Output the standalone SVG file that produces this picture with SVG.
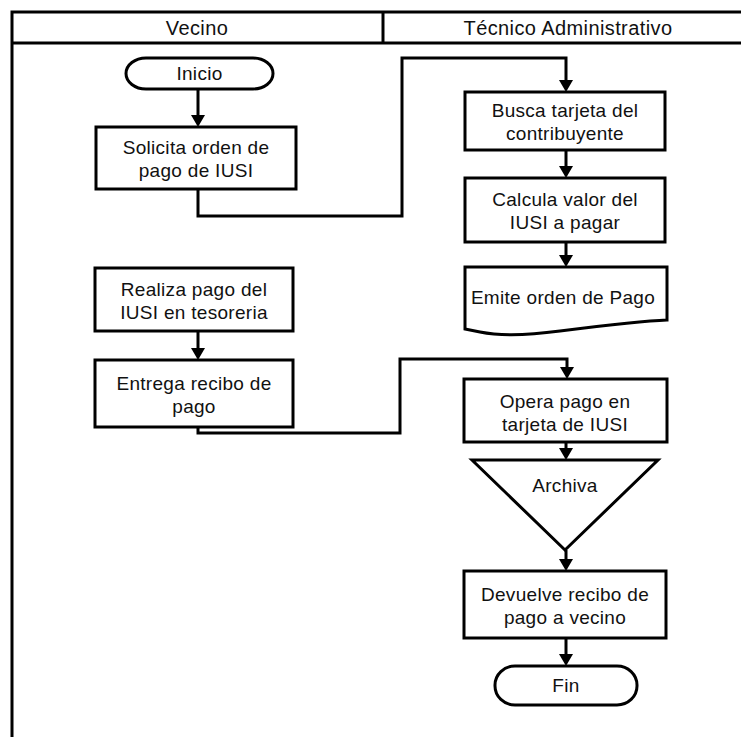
<svg xmlns="http://www.w3.org/2000/svg" xmlns:xlink="http://www.w3.org/1999/xlink" width="741" height="737" viewBox="0 0 741 737">
  <defs>
    <style>
      .frame { fill: none; stroke: #000; stroke-width: 3; }
      .shape { fill: #fff; stroke: #000; stroke-width: 3; stroke-linejoin: miter; }
      .wire { fill: none; stroke: #000; stroke-width: 3; }
      .head { fill: #000; stroke: none; }
      .lbl { font-family: "Liberation Sans", Arial, sans-serif; font-size: 19px; fill: #111; text-anchor: middle; letter-spacing: 0.3px; }
      .hdr { font-family: "Liberation Sans", Arial, sans-serif; font-size: 20px; fill: #111; text-anchor: middle; letter-spacing: 0.4px; }
    </style>
    <!-- downward arrowhead, tip at the origin -->
    <path id="head" d="M-7,-12 L7,-12 L0,0 Z"/>
  </defs>

  <rect width="741" height="737" fill="#fff"/>

  <!-- swimlane frame -->
  <g id="lanes">
    <path class="frame" d="M12,737 V12 H741"/>
    <path class="frame" d="M12,43 H741"/>
    <path class="frame" d="M383,12 V43"/>
    <text class="hdr" x="197" y="35">Vecino</text>
    <text class="hdr" x="568" y="35">Técnico Administrativo</text>
  </g>

  <!-- Vecino lane -->
  <g id="inicio">
    <rect class="shape" x="126" y="58" width="147" height="31" rx="20" ry="15.5"/>
    <text class="lbl" x="199.5" y="80">Inicio</text>
  </g>
  <g id="solicita">
    <rect class="shape" x="96" y="127" width="200" height="62"/>
    <text class="lbl" x="196" y="154">Solicita orden de</text>
    <text class="lbl" x="196" y="177">pago de IUSI</text>
  </g>
  <g id="realiza">
    <rect class="shape" x="95" y="268" width="198" height="63"/>
    <text class="lbl" x="194" y="296">Realiza pago del</text>
    <text class="lbl" x="194" y="319">IUSI en tesoreria</text>
  </g>
  <g id="entrega">
    <rect class="shape" x="95" y="360" width="198" height="67"/>
    <text class="lbl" x="194" y="390">Entrega recibo de</text>
    <text class="lbl" x="194" y="413">pago</text>
  </g>

  <!-- Técnico Administrativo lane -->
  <g id="busca">
    <rect class="shape" x="465" y="92" width="200" height="58"/>
    <text class="lbl" x="565" y="117">Busca tarjeta del</text>
    <text class="lbl" x="565" y="140">contribuyente</text>
  </g>
  <g id="calcula">
    <rect class="shape" x="465" y="178" width="200" height="64"/>
    <text class="lbl" x="565" y="206">Calcula valor del</text>
    <text class="lbl" x="565" y="229">IUSI a pagar</text>
  </g>
  <g id="emite">
    <path class="shape" d="M465,267 H667 V320 C640,321 600,326 560,331 C530,335 500,336 480,332 L465,329 Z"/>
    <text class="lbl" x="563" y="304">Emite orden de Pago</text>
  </g>
  <g id="opera">
    <rect class="shape" x="464" y="379" width="203" height="63"/>
    <text class="lbl" x="565" y="408">Opera pago en</text>
    <text class="lbl" x="565" y="431">tarjeta de IUSI</text>
  </g>
  <g id="archiva">
    <path class="shape" d="M472,460 H658 L565,550 Z"/>
    <text class="lbl" x="565" y="492">Archiva</text>
  </g>
  <g id="devuelve">
    <rect class="shape" x="464" y="571" width="202" height="67"/>
    <text class="lbl" x="565" y="601">Devuelve recibo de</text>
    <text class="lbl" x="565" y="624">pago a vecino</text>
  </g>
  <g id="fin">
    <rect class="shape" x="495" y="666" width="142" height="39" rx="20" ry="19"/>
    <text class="lbl" x="566" y="692">Fin</text>
  </g>

  <!-- connectors, drawn last so the arrowheads sit on top of the box outlines -->
  <g id="connectors">
    <path class="wire" d="M198,89 V120"/>
    <use class="head" href="#head" xlink:href="#head" x="198" y="127"/>
    <path class="wire" d="M198,189 V216 H402 V58 H566 V85"/>
    <use class="head" href="#head" xlink:href="#head" x="566" y="92"/>
    <path class="wire" d="M566,150 V171"/>
    <use class="head" href="#head" xlink:href="#head" x="566" y="178"/>
    <path class="wire" d="M566,242 V260"/>
    <use class="head" href="#head" xlink:href="#head" x="566" y="267"/>
    <path class="wire" d="M198,331 V353"/>
    <use class="head" href="#head" xlink:href="#head" x="198" y="360"/>
    <path class="wire" d="M198,427 V433 H400 V359 H567 V372"/>
    <use class="head" href="#head" xlink:href="#head" x="567" y="379"/>
    <path class="wire" d="M566,442 V453"/>
    <use class="head" href="#head" xlink:href="#head" x="566" y="460"/>
    <path class="wire" d="M566,550 V564"/>
    <use class="head" href="#head" xlink:href="#head" x="566" y="571"/>
    <path class="wire" d="M566,638 V659"/>
    <use class="head" href="#head" xlink:href="#head" x="566" y="666"/>
  </g>
</svg>
